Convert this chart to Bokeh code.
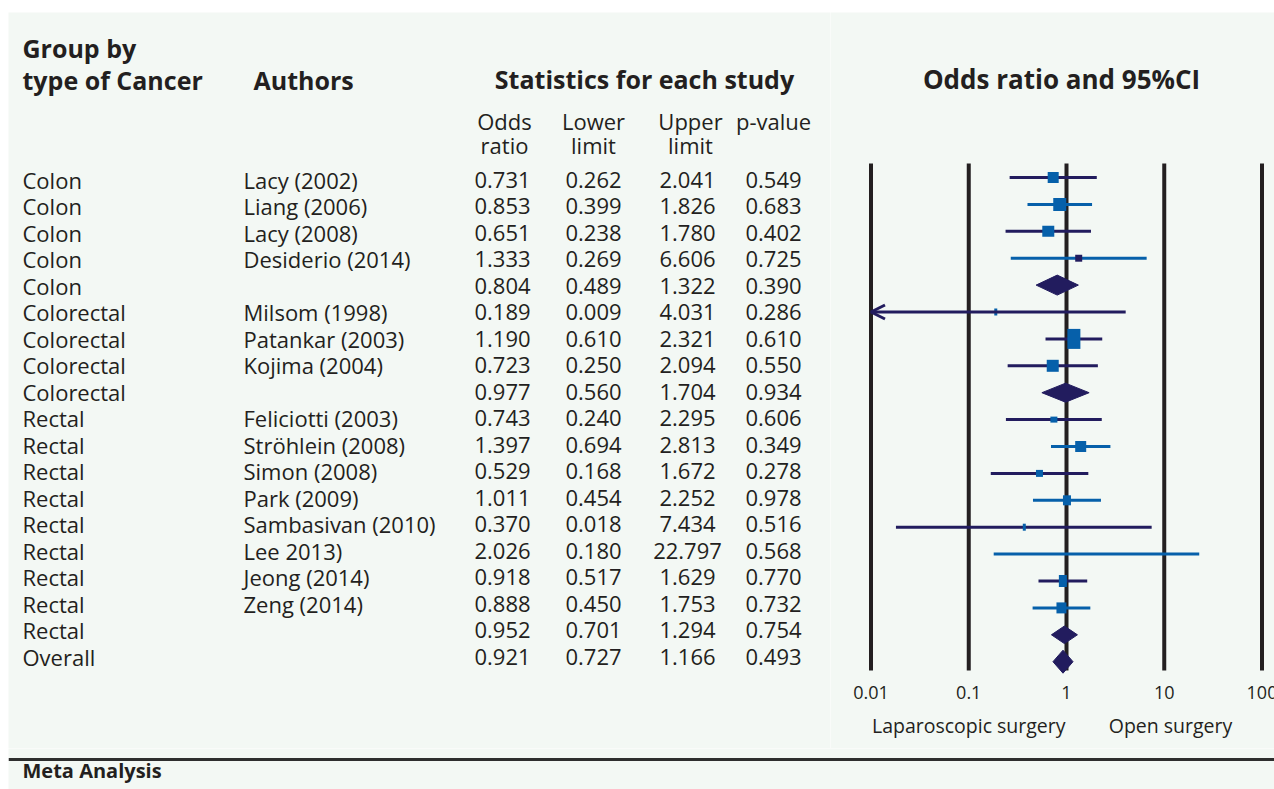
from bokeh.plotting import figure
from bokeh.layouts import row, column
from bokeh.models import Range1d, ColumnDataSource, Arrow, OpenHead
from bokeh.embed import file_html
from bokeh.resources import INLINE
from bokeh.core.properties import value

# ---------------- data ----------------
groups = ["Colon"] * 5 + ["Colorectal"] * 4 + ["Rectal"] * 9 + ["Overall"]
authors = ["Lacy (2002)", "Liang (2006)", "Lacy (2008)", "Desiderio (2014)", "",
           "Milsom (1998)", "Patankar (2003)", "Kojima (2004)", "",
           "Feliciotti (2003)", "Ströhlein (2008)", "Simon (2008)", "Park (2009)",
           "Sambasivan (2010)", "Lee 2013)", "Jeong (2014)", "Zeng (2014)", "", ""]
odds_ratio = [0.731, 0.853, 0.651, 1.333, 0.804, 0.189, 1.190, 0.723, 0.977,
              0.743, 1.397, 0.529, 1.011, 0.370, 2.026, 0.918, 0.888, 0.952, 0.921]
lower_limit = [0.262, 0.399, 0.238, 0.269, 0.489, 0.009, 0.610, 0.250, 0.560,
               0.240, 0.694, 0.168, 0.454, 0.018, 0.180, 0.517, 0.450, 0.701, 0.727]
upper_limit = [2.041, 1.826, 1.780, 6.606, 1.322, 4.031, 2.321, 2.094, 1.704,
               2.295, 2.813, 1.672, 2.252, 7.434, 22.797, 1.629, 1.753, 1.294, 1.166]
p_value = [0.549, 0.683, 0.402, 0.725, 0.390, 0.286, 0.610, 0.550, 0.934,
           0.606, 0.349, 0.278, 0.978, 0.516, 0.568, 0.770, 0.732, 0.754, 0.493]
is_summary = [False, False, False, False, True, False, False, False, True,
              False, False, False, False, False, False, False, False, True, True]
tick_values = [0.01, 0.1, 1, 10, 100]
tick_labels = ["0.01", "0.1", "1", "10", "100"]

# ---------------- styles ----------------
NAVY = "#221c5e"
BLUE = "#0660aa"
INK = "#231f20"
BG = "#f3f8f4"
FONT = value("Open Sans")
line_colors = [NAVY, BLUE, NAVY, BLUE, NAVY, NAVY, NAVY, NAVY, NAVY,
               NAVY, BLUE, NAVY, BLUE, NAVY, BLUE, NAVY, BLUE, NAVY, NAVY]
square_colors = [BLUE, BLUE, BLUE, NAVY, NAVY, BLUE, BLUE, BLUE, NAVY,
                 BLUE, BLUE, BLUE, BLUE, BLUE, BLUE, BLUE, BLUE, NAVY, NAVY]
square_w_px = [11, 13, 12, 7, 0, 3, 13, 12, 0, 7, 11, 7, 8, 3, 0, 8, 10, 0, 0]
square_h_px = [11, 13, 11, 7, 0, 7, 20, 12, 0, 6, 11, 7, 10, 7, 0, 12, 11, 0, 0]
diamond_half_px = [0, 0, 0, 0, 10, 0, 0, 0, 9.5, 0, 0, 0, 0, 0, 0, 0, 0, 8.8, 11.5]

n = len(groups)
idx = list(range(n))

# layout geometry (page pixels)
W, H = 1274, 789
TOP, BOTTOM = 12, 748
LEFT, SPLIT = 8, 830
ROW_FONT = 22
SHIFT = 0.4                          # renderer's baseline offset, in em
TXT_ROW0 = 188 - SHIFT * ROW_FONT    # text baselines
TXT_STEP = 26.5
MRK_ROW0, MRK_STEP = 177, 26.9      # forest mark centres


def ty(px):
    return (px - TXT_ROW0) / TXT_STEP


def my(px):
    return (px - MRK_ROW0) / MRK_STEP


def base_fig(w, h, xr, yr, top=TOP, left=0, **kw):
    f = figure(width=w, height=h, x_range=xr, y_range=yr, output_backend="svg",
               toolbar_location=None, x_axis_location=None, y_axis_location=None,
               min_border=0, min_border_top=top, min_border_left=left, **kw)
    f.background_fill_color = BG
    f.border_fill_color = "white"
    f.outline_line_color = None
    f.grid.visible = False
    return f


def txt(f, conv, x, base_px, t, size=22, align="left", bold=False):
    f.text(x=x, y=[conv(b - SHIFT * size) for b in base_px], text=t,
           text_font=FONT, text_font_size=f"{size}px",
           text_align=align, text_baseline="alphabetic", text_color=INK,
           text_font_style="bold" if bold else "normal")


# ---------------- left: table ----------------
L = base_fig(SPLIT, BOTTOM, Range1d(LEFT, SPLIT), Range1d(ty(BOTTOM), ty(TOP)), left=LEFT)

txt(L, ty, [22, 22], [57, 89], ["Group by", "type of Cancer"], 25, bold=True)
txt(L, ty, [253], [89], ["Authors"], 25, bold=True)
txt(L, ty, [644], [88], ["Statistics for each study"], 25, "center", bold=True)
txt(L, ty, [504, 593, 690, 773], [129] * 4, ["Odds", "Lower", "Upper", "p-value"], 22, "center")
txt(L, ty, [504, 593, 690], [153] * 3, ["ratio", "limit", "limit"], 22, "center")

src = ColumnDataSource(dict(
    y=idx, group=groups, author=authors,
    orv=[f"{v:.3f}" for v in odds_ratio],
    lov=[f"{v:.3f}" for v in lower_limit],
    upv=[f"{v:.3f}" for v in upper_limit],
    pv=[f"{v:.3f}" for v in p_value],
))
for x, col, align in [(22, "group", "left"), (243, "author", "left"),
                      (502, "orv", "center"), (593, "lov", "center"),
                      (687, "upv", "center"), (773, "pv", "center")]:
    L.text(x=x, y="y", text=col, source=src, text_font=FONT,
           text_font_size=f"{ROW_FONT}px", text_align=align,
           text_baseline="alphabetic", text_color=INK)

# ---------------- right: forest plot ----------------
DEC = 97.75
X1 = 1066


def lx(px):
    return 10 ** ((px - X1) / DEC)


R = base_fig(W - SPLIT, BOTTOM, Range1d(lx(SPLIT), lx(W)), Range1d(my(BOTTOM), my(TOP)),
             x_axis_type="log")

txt(R, my, [lx(1061)], [89], ["Odds ratio and 95%CI"], 26, "center", bold=True)

R.segment(x0=tick_values, x1=tick_values, y0=[my(163)] * 5, y1=[my(670)] * 5,
          line_width=4, line_color=INK)

# CI lines
study = [i for i in idx if not is_summary[i]]
seg_i = [i for i in study if lower_limit[i] >= tick_values[0]]
R.segment(x0=[lower_limit[i] for i in seg_i], x1=[upper_limit[i] for i in seg_i],
          y0=seg_i, y1=seg_i, line_width=3, line_color=[line_colors[i] for i in seg_i])
for i in study:
    if lower_limit[i] < tick_values[0]:
        R.add_layout(Arrow(end=OpenHead(size=14, line_color=line_colors[i], line_width=3),
                           x_start=upper_limit[i], y_start=i, x_end=tick_values[0], y_end=i,
                           line_color=line_colors[i], line_width=3))

# squares
sq_i = [i for i in study if square_w_px[i] > 0]
R.rect(x=[odds_ratio[i] for i in sq_i], y=sq_i,
       width=[square_w_px[i] for i in sq_i], height=[square_h_px[i] for i in sq_i],
       width_units="screen", height_units="screen",
       fill_color=[square_colors[i] for i in sq_i], line_color=None)

# diamonds for pooled estimates
sm_i = [i for i in idx if is_summary[i]]
R.patches(xs=[[lower_limit[i], odds_ratio[i], upper_limit[i], odds_ratio[i]] for i in sm_i],
          ys=[[i, i - diamond_half_px[i] / MRK_STEP, i, i + diamond_half_px[i] / MRK_STEP] for i in sm_i],
          fill_color=NAVY, line_color=NAVY, line_width=1)

txt(R, my, tick_values, [699] * 5, tick_labels, 18, "center")
txt(R, my, [0.1, lx(1170)], [733] * 2, ["Laparoscopic surgery", "Open surgery"], 19.5, "center")

# ---------------- bottom strip ----------------
B = base_fig(W, H - BOTTOM, Range1d(LEFT, W), Range1d(H, BOTTOM), top=0, left=LEFT)
B.segment(x0=[LEFT], x1=[W], y0=[759], y1=[759], line_width=3, line_color="#2e2e2e")
txt(B, lambda v: v, [22], [778], ["Meta Analysis"], 20, bold=True)

page = column(row(L, R), B)
open("out.html", "w").write(file_html(page, INLINE))
